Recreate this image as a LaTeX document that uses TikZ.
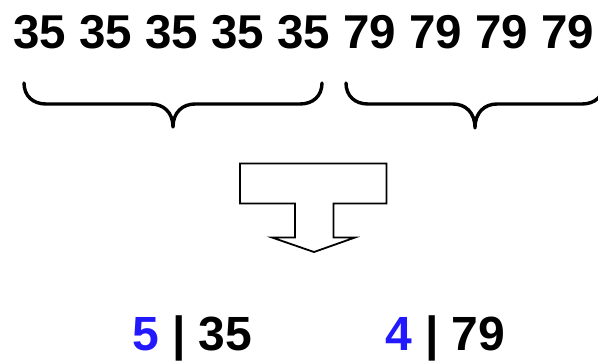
\documentclass[tikz,border=0pt]{standalone}
\usepackage{fontspec}
\setmainfont{Liberation Sans}
\definecolor{countblue}{RGB}{35,25,255}
\begin{document}
\begin{tikzpicture}[x=1pt,y=-1pt,
  numtext/.style={inner sep=0pt, anchor=base west, font=\fontsize{48}{58}\selectfont\bfseries},
  bracepath/.style={line width=3.4pt, line cap=round, line join=round},
  arrowshape/.style={line width=1.8pt, line join=miter, fill=white}]
\useasboundingbox (0,0) rectangle (598,360);
\clip (0,0) rectangle (598,360);

% the run of values
\node[numtext, font=\fontsize{47.5}{57}\selectfont\bfseries] (run) at (13,48.5) {35 35 35 35 35 79 79 79 79};

% left brace: the five 35s
\draw[bracepath] (24,83) .. controls (24,96) and (33,104) .. (46,104) -- (151,104)
  .. controls (163,104) and (173,112) .. (173,127)
  .. controls (173,112) and (183,104) .. (195,104) -- (300,104)
  .. controls (313,104) and (322,96) .. (322,83);

% right brace: the four 79s
\draw[bracepath] (346,83) .. controls (346,96) and (355,104) .. (368,104) -- (453,104)
  .. controls (465,104) and (475,112) .. (475,128)
  .. controls (475,112) and (485,104) .. (497,104) -- (582,104)
  .. controls (595,104) and (604,96) .. (604,83);

% block arrow
\draw[arrowshape] (240,163.5) -- (386.5,163.5) -- (386.5,203.5) -- (333.5,203.5)
  -- (333.5,237.5) -- (355,237.5) -- (314,252) -- (272,237.5) -- (295,237.5)
  -- (295,203.5) -- (240,203.5) -- cycle;

% run-length pairs: count | value
\node[numtext] (pairA) at (132,350) {\textcolor{countblue}{5} | 35};
\node[numtext] (pairB) at (385,350) {\textcolor{countblue}{4} | 79};
\end{tikzpicture}
\end{document}
